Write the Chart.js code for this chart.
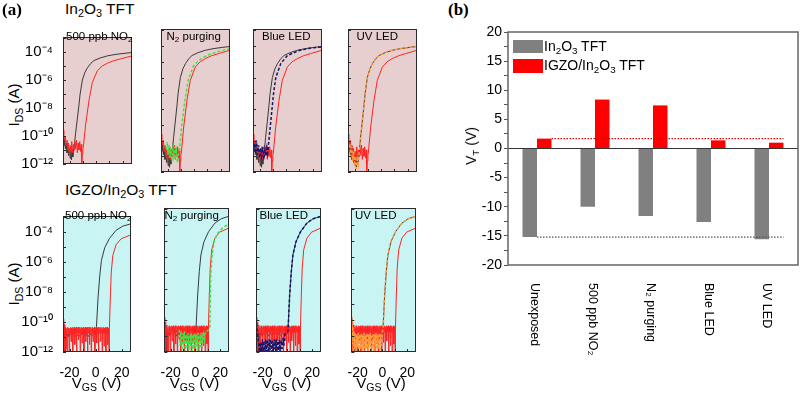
<!DOCTYPE html>
<html><head><meta charset="utf-8">
<script src="https://cdn.jsdelivr.net/npm/chart.js@4.4.1/dist/chart.umd.min.js"></script>
<style>
body{margin:0;background:#fff;}
#root{position:relative;width:800px;height:393px;overflow:hidden;font-family:'Liberation Sans',Arial,sans-serif;color:#000;background:#fff;}
.t{position:absolute;white-space:nowrap;line-height:1.15;}
canvas{position:absolute;}
sub{font-size:70%;vertical-align:-0.3em;line-height:0;}
.rot{transform:translate(-50%,-50%) rotate(-90deg);}
</style></head><body><div id="root"></div>
<script>
// ---------------- DATA ----------------
// Transfer curves: [V_GS (V), log10(I_DS / A)]
// In2O3 TFT (top row)
const in2o3Pristine = [[-25,-10.3],[-24.4,-10.7],[-23.8,-10.2],[-23.2,-10.9],[-22.6,-10.5],[-22,-11.2],[-21.4,-10.6],[-20.8,-11.4],[-20.2,-10.9],[-19.6,-11.6],[-19.1,-11.0],[-18.6,-11.7],[-18.1,-11.1],[-17.6,-11.5],[-17.1,-11.0],[-16.6,-10.8],[-15.5,-9.8],[-14.1,-8.7],[-13,-7.8],[-12.1,-7.0],[-10.4,-6.0],[-8.5,-5.45],[-6.6,-5.12],[-4,-4.8],[-1.6,-4.6],[3,-4.42],[8.4,-4.27],[15,-4.16],[21,-4.09],[27,-4.03]];
const in2o3NO2 = [[-25,-9.6],[-24.4,-9.9],[-23.8,-10.3],[-23.2,-10.0],[-22.6,-10.7],[-22,-10.3],[-21.4,-11.0],[-20.8,-10.5],[-20.2,-11.3],[-19.6,-10.7],[-19.0,-11.1],[-18.4,-10.4],[-17.8,-11.2],[-17.2,-10.6],[-16.6,-11.0],[-16,-10.4],[-15.4,-10.9],[-14.8,-10.3],[-14.2,-11.2],[-13.6,-10.5],[-13,-11.0],[-12.4,-10.4],[-11.8,-11.1],[-11.3,-10.6],[-10.9,-12],[-10.5,-11.3],[-10,-10.9],[-9.7,-10.8],[-7.9,-9.14],[-5.4,-7.45],[-2.9,-6.18],[0.9,-5.33],[4.5,-5.0],[8.4,-4.8],[13,-4.62],[18.5,-4.48],[27,-4.27]];
const in2o3N2 = [[-21,-10.6],[-20.3,-10.1],[-19.6,-10.9],[-18.9,-10.3],[-18.2,-11.1],[-17.5,-10.5],[-16.8,-11.3],[-16.1,-10.6],[-15.4,-11.0],[-14.7,-10.4],[-14,-11.2],[-13.3,-10.7],[-12.6,-11.4],[-11.9,-10.9],[-11.3,-10.8],[-9.5,-9.14],[-7,-7.45],[-4.5,-6.18],[-0.7,-5.3],[3,-4.95],[7,-4.72],[12,-4.52],[18,-4.36],[27,-4.17]];
const in2o3Blue = [[-24,-10.2],[-23.2,-10.8],[-22.4,-10.0],[-21.6,-10.9],[-20.8,-10.3],[-20,-11.1],[-19.2,-10.5],[-18.4,-11.0],[-17.6,-10.4],[-16.8,-11.2],[-16,-10.6],[-15.2,-11.0],[-14.5,-10.5],[-14,-10.8],[-12.8,-9.8],[-11.5,-8.7],[-9.5,-7.0],[-7.8,-6.0],[-4,-5.1],[1,-4.6],[10,-4.28],[18,-4.14],[27,-4.05]];
const in2o3UV = [[-25,-9.9],[-24.3,-10.5],[-23.6,-10.2],[-22.9,-11.0],[-22.2,-10.4],[-21.5,-11.3],[-20.8,-10.7],[-20.1,-11.6],[-19.4,-11.0],[-18.7,-11.8],[-18,-11.2],[-17.3,-11.5],[-16.6,-10.8],[-15.5,-9.8],[-14.1,-8.7],[-13,-7.8],[-12.1,-7.0],[-10.4,-6.0],[-8.5,-5.45],[-6.6,-5.12],[-4,-4.8],[-1.6,-4.6],[3,-4.42],[8.4,-4.27],[15,-4.16],[21,-4.09],[27,-4.03]];

// IGZO/In2O3 TFT (bottom row)
const igzoPristine = [[-25,-10.1],[-24.6,-10.5],[-24.3,-11.9],[-23.9,-10.6],[-23.4,-10.8],[-23.1,-12],[-22.7,-10.8],[-22,-10.9],[-21.2,-10.75],[-20.4,-11.0],[-19.6,-10.8],[-18,-10.9],[-16.5,-10.75],[-15,-11.0],[-13.5,-10.8],[-12,-10.95],[-10.5,-10.75],[-9,-10.9],[-7.5,-10.8],[-6,-11.0],[-4.5,-10.8],[-3,-10.9],[-1.5,-10.8],[0,-10.85],[0.6,-10.3],[1.8,-8.41],[3.1,-6.94],[4.4,-5.88],[6.9,-5.04],[10.6,-4.41],[15.7,-3.87],[20.7,-3.6],[27,-3.44]];
const igzoNO2 = [[-25,-9.8],[-24.7,-10.0],[-24.5,-12],[-24.3,-10.1],[-23.9,-10.2],[-23.7,-12],[-23.5,-10.3],[-23.0,-10.4],[-22.8,-11.8],[-22.6,-10.45],[-22.1,-10.5],[-21.9,-12],[-21.6,-10.55],
[-21.2,-10.35],[-20.8,-10.75],[-20.5,-10.4],[-20.2,-12],[-19.9,-10.45],[-19.5,-10.75],[-19.1,-10.35],[-18.8,-11.3],[-18.5,-10.4],[-18.1,-10.75],[-17.7,-10.35],[-17.4,-12],[-17.1,-10.45],[-16.7,-10.75],[-16.3,-10.35],[-16.0,-11.5],[-15.7,-10.4],[-15.3,-10.75],[-14.9,-10.35],[-14.6,-12],[-14.3,-10.45],[-13.9,-10.75],[-13.5,-10.35],[-13.2,-11.2],[-12.9,-10.4],[-12.5,-10.75],[-12.1,-10.35],[-11.8,-12],[-11.5,-10.45],[-11.1,-10.75],[-10.7,-10.35],[-10.4,-11.4],[-10.1,-10.4],[-9.7,-10.75],[-9.3,-10.35],[-9.0,-12],[-8.7,-10.45],[-8.3,-10.75],[-7.9,-10.35],[-7.6,-11.3],[-7.3,-10.4],[-6.9,-10.75],[-6.5,-10.35],[-6.2,-12],[-5.9,-10.45],[-5.5,-10.75],[-5.1,-10.35],[-4.8,-11.5],[-4.5,-10.4],[-4.1,-10.75],[-3.7,-10.35],[-3.4,-12],[-3.1,-10.45],[-2.7,-10.75],[-2.3,-10.35],[-2.0,-11.3],[-1.7,-10.4],[-1.3,-10.75],[-0.9,-10.35],[-0.6,-12],[-0.3,-10.45],[0.1,-10.75],[0.5,-10.35],[0.8,-11.4],[1.1,-10.4],[1.5,-10.75],[1.9,-10.35],[2.2,-12],[2.5,-10.45],[2.9,-10.75],[3.3,-10.35],[3.6,-11.3],[3.9,-10.4],[4.3,-10.75],[4.7,-10.35],[5.0,-12],[5.3,-10.45],[5.7,-10.75],[6.1,-10.35],[6.4,-11.6],[6.7,-10.4],[7.1,-10.75],[7.5,-10.35],[7.8,-12],[8.1,-10.45],[8.5,-10.75],[8.9,-10.35],[9.2,-11.5],[9.5,-10.4],[9.9,-10.75],[10.2,-12],[10.4,-10.5],[10.6,-10.42],[11.2,-8.41],[11.9,-6.72],[13.1,-5.56],[15.7,-4.82],[19.5,-4.44],[27,-4.18]];
const igzoN2 = [[-13,-10.6],[-12.3,-11.6],[-11.6,-10.7],[-10.9,-11.9],[-10.2,-10.8],[-9.5,-11.5],[-8.8,-10.7],[-8.1,-12],[-7.4,-10.9],[-6.7,-11.7],[-6,-10.8],[-5.3,-11.9],[-4.6,-10.9],[-3.9,-11.6],[-3.2,-10.8],[-2.5,-12],[-1.8,-10.9],[-1.1,-11.8],[-0.4,-10.8],[0.3,-11.9],[1,-10.9],[1.7,-11.6],[2.4,-10.8],[3.1,-12],[3.8,-10.9],[4.5,-11.7],[5.2,-10.8],[5.9,-11.5],[6.6,-10.9],[7.3,-11.2],[8,-10.7],[9,-10.7],[10.5,-10.6],[11.6,-10.5],[11.9,-8.8],[12.2,-7.35],[13.4,-5.88],[14.8,-5.1],[17.2,-4.6],[22,-4.15],[27,-3.94]];
const igzoBlue = [[-25,-10.2],[-24.3,-10.6],[-23.6,-11.1],[-22.9,-11.6],[-22.3,-12],[-21.6,-11.4],[-21,-12],[-20.2,-11.2],[-19.6,-12],[-18.9,-11.3],[-18.2,-12],[-17.5,-11.2],[-16.8,-12],[-16.1,-11.3],[-15.4,-12],[-14.7,-11.2],[-14,-11.9],[-13.3,-11.2],[-12.6,-12],[-11.9,-11.3],[-11.2,-12],[-10.5,-11.2],[-9.8,-11.8],[-9.1,-11.2],[-8.4,-12],[-7.7,-11.3],[-7,-11.9],[-6.3,-11.2],[-5.6,-12],[-4.9,-11.3],[-4.2,-11.8],[-3.5,-11.1],[-2.8,-11.6],[-2,-10.9],[-1,-10.8],[0.3,-10.7],[0.7,-10.3],[1.8,-8.41],[3.1,-6.94],[4.4,-5.88],[6.9,-5.04],[10.6,-4.41],[15.7,-3.87],[20.7,-3.6],[27,-3.45]];
const igzoUV = [[-25,-9.4],[-24.8,-12],[-24.5,-10.0],[-24.2,-11.5],[-23.8,-10.4],[-23.4,-12],[-22.9,-10.7],[-22.4,-11.8],[-21.8,-10.8],[-21.2,-12],[-20.6,-10.9],[-20,-11.7],[-19.4,-10.8],[-18.8,-12],[-18.2,-10.9],[-17.6,-11.8],[-17,-10.8],[-16.4,-12],[-15.8,-10.9],[-15.2,-11.7],[-14.6,-10.8],[-14,-12],[-13.4,-10.9],[-12.8,-11.8],[-12.2,-10.8],[-11.6,-12],[-11,-10.9],[-10.4,-11.7],[-9.8,-10.8],[-9.2,-12],[-8.6,-10.9],[-8,-11.8],[-7.4,-10.8],[-6.8,-12],[-6.2,-10.9],[-5.6,-11.7],[-5,-10.8],[-4.4,-12],[-3.8,-10.9],[-3.2,-11.8],[-2.6,-10.8],[-2,-12],[-1.4,-10.9],[-0.8,-11.6],[-0.2,-10.8],[0.4,-10.5],[0.7,-10.3],[1.8,-8.41],[3.1,-6.94],[4.4,-5.88],[6.9,-5.04],[10.6,-4.41],[15.7,-3.87],[20.7,-3.6],[27,-3.45]];

// Tick values / labels for the transfer-curve panels
const xTickValues = [-20,-10,0,10,20];
const xTickLabels = [-20,0,20];
const yTickValues = [-12,-11,-10,-9,-8,-7,-6,-5,-4,-3];
const yTickExps = [-4,-6,-8,-10,-12];

// Panel (b): threshold voltages
const conditions = ['Unexposed','500 ppb NO\u2082','N\u2082 purging','Blue LED','UV LED'];
const vtIn2O3 = [-15.2,-10.0,-11.6,-12.6,-15.6];
const vtIGZO = [1.7,8.4,7.4,1.4,1.0];
const vtTickValues = [-20,-17.5,-15,-12.5,-10,-7.5,-5,-2.5,0,2.5,5,7.5,10,12.5,15,17.5,20];

// ---------------- RENDER ----------------
const FONT = "'Liberation Sans', Arial, sans-serif";
const root = document.getElementById('root');
function txt(html, css){ const d=document.createElement('div'); d.className='t'; d.innerHTML=html; Object.assign(d.style,css); root.appendChild(d); return d; }
function sup(n){ const m={'-':'\u207B','0':'\u2070','1':'\u00B9','2':'\u00B2','4':'\u2074','6':'\u2076','8':'\u2078'}; return '10'+String(n).split('').map(c=>m[c]).join(''); }

const panelLefts = [63,161,253,347.5];
const PW = 69;
const rows = [
  {top:29, h:143, bg:'#e8cfcf', label:'In<sub>2</sub>O<sub>3</sub> TFT', labelTop:0,
   curves:[[in2o3Pristine,in2o3NO2],[in2o3Pristine,in2o3NO2,in2o3N2],[in2o3Pristine,in2o3NO2,in2o3Blue],[in2o3Pristine,in2o3NO2,in2o3UV]],
   insets:[3,5.5,9,9]},
  {top:208, h:144, bg:'#c8f4f4', label:'IGZO/In<sub>2</sub>O<sub>3</sub> TFT', labelTop:181,
   curves:[[igzoPristine,igzoNO2],[igzoPristine,igzoNO2,igzoN2],[igzoPristine,igzoNO2,igzoBlue],[igzoPristine,igzoNO2,igzoUV]],
   insets:[2,3.5,6.5,7.5]}
];
const panelNames = ['500 ppb NO<sub>2</sub>','N<sub>2</sub> purging','Blue LED','UV LED'];
const recoveryStyle = [null,
  {borderColor:'#3fe23f', borderWidth:1.5, borderDash:[3,2]},
  {borderColor:'#14146e', borderWidth:1.5, borderDash:[3,2]},
  {borderColor:'#ff9a3c', borderWidth:1.5, borderDash:[3,2]}];

function panelPlugin(bg){ return {
  id:'panelbox',
  beforeDatasetsDraw(chart){ const a=chart.chartArea,c=chart.ctx; c.save(); c.fillStyle=bg; c.fillRect(a.left,a.top,a.right-a.left,a.bottom-a.top); c.restore(); },
  afterDraw(chart){ const a=chart.chartArea,c=chart.ctx; c.save(); c.strokeStyle='#2a2a2a'; c.lineWidth=1;
    c.strokeRect(Math.round(a.left)+0.5,Math.round(a.top)+0.5,Math.round(a.right-a.left)-1,Math.round(a.bottom-a.top)-1);
    const ys=chart.scales.y, xs=chart.scales.x; c.beginPath();
    ys.ticks.forEach(t=>{const y=Math.round(ys.getPixelForValue(t.value))+0.5; c.moveTo(a.left,y); c.lineTo(a.left+3,y);});
    xs.ticks.forEach(t=>{const x=Math.round(xs.getPixelForValue(t.value))+0.5; c.moveTo(x,a.bottom); c.lineTo(x,a.bottom-3);});
    c.stroke(); c.restore(); }
};}

rows.forEach((row,ri)=>{
  txt(row.label,{left:'65px',top:row.labelTop+'px',fontSize:'15.5px'});
  txt('I<sub>DS</sub> (A)',{left:'14px',top:(row.top+row.h/2+4)+'px',fontSize:'15px'}).classList.add('rot');
  panelLefts.forEach((left,ci)=>{
    const padL = ci===0 ? 58 : 6, padT=3, padR=3, padB = ri===1 ? 26 : 3;
    const cw = Math.round(padL+PW+padR), ch = padT+row.h+padB;
    const cv = document.createElement('canvas');
    cv.width=cw; cv.height=ch;
    Object.assign(cv.style,{left:(left-padL)+'px',top:(row.top-padT)+'px',width:cw+'px',height:ch+'px'});
    root.appendChild(cv);
    const curves = row.curves[ci];
    const ds = [
      {data:curves[0], borderColor:'#3a3a3a', borderWidth:1, order:3},
      {data:curves[1], borderColor:'#ff2323', borderWidth:1, order:2}
    ];
    if(curves[2]) ds.push(Object.assign({data:curves[2], order:1}, recoveryStyle[ci]));
    new Chart(cv,{
      type:'line',
      data:{datasets:ds},
      options:{
        responsive:false, animation:false, devicePixelRatio:1,
        layout:{padding:{top:padT,right:padR,left:0,bottom:0}},
        plugins:{legend:{display:false},tooltip:{enabled:false}},
        elements:{point:{radius:0},line:{tension:0}},
        scales:{
          x:{type:'linear',min:-25,max:27,
             afterFit:s=>{s.height=padB;},
             afterBuildTicks:s=>{s.ticks=xTickValues.map(v=>({value:v}));},
             grid:{display:false},border:{display:false},
             ticks:{display:ri===1,autoSkip:false,maxRotation:0,minRotation:0,padding:5,color:'#000',font:{family:FONT,size:14},
                    callback:v=>xTickLabels.includes(v)?String(v):''}},
          y:{type:'linear',min:-12,max:-2.92,
             afterFit:s=>{s.width=padL;},
             afterBuildTicks:s=>{s.ticks=yTickValues.map(v=>({value:v}));},
             grid:{display:false},border:{display:false},
             ticks:{display:ci===0,autoSkip:false,padding:2,color:'#000',font:{family:FONT,size:15},
                    callback:v=>yTickExps.includes(v)?sup(v):''}}
        }
      },
      plugins:[panelPlugin(row.bg)]
    });
    txt(panelNames[ci],{left:(left+row.insets[ci])+'px',top:(row.top+1)+'px',fontSize:'11.5px'});
    if(ri===1) txt('V<sub>GS</sub> (V)',{left:(left+PW/2-1)+'px',top:'374px',fontSize:'15px',transform:'translateX(-50%)'});
  });
});

txt('(a)',{left:'2px',top:'0px',fontSize:'17px',fontWeight:'bold',fontFamily:"'Liberation Serif','Times New Roman',serif"});
txt('(b)',{left:'448px',top:'0px',fontSize:'17px',fontWeight:'bold',fontFamily:"'Liberation Serif','Times New Roman',serif"});

// ---- panel (b) bar chart ----
const cvb=document.createElement('canvas');
cvb.width=370; cvb.height=373;
Object.assign(cvb.style,{left:'430px',top:'20px',width:'370px',height:'373px'});
root.appendChild(cvb);
const barPlugin={
  id:'barextras',
  afterDraw(chart){
    const a=chart.chartArea,c=chart.ctx,xs=chart.scales.x,ys=chart.scales.y;
    const m0=chart.getDatasetMeta(0).data, m1=chart.getDatasetMeta(1).data;
    c.save();
    c.lineWidth=1.3; c.setLineDash([1.5,1.5]);
    const endX=m1[4].x+m1[4].width/2;
    c.strokeStyle='#555'; c.beginPath();
    let y=ys.getPixelForValue(vtIn2O3[0]); c.moveTo(m0[0].x+m0[0].width/2,y); c.lineTo(endX,y); c.stroke();
    c.strokeStyle='#e00000'; c.beginPath();
    y=ys.getPixelForValue(vtIGZO[0]); c.moveTo(m1[0].x+m1[0].width/2,y); c.lineTo(endX,y); c.stroke();
    c.setLineDash([]);
    c.strokeStyle='#666'; c.lineWidth=1.5;
    c.strokeRect(a.left,a.top,a.right-a.left,a.bottom-a.top);
    c.fillStyle='#000'; c.font='12.5px '+FONT; c.textAlign='left'; c.textBaseline='middle';
    conditions.forEach((lab,i)=>{ const x=xs.getPixelForValue(i)-3; c.save(); c.translate(x,a.bottom+18); c.rotate(Math.PI/2); c.fillText(lab,0,0); c.restore(); });
    c.restore();
  }
};
new Chart(cvb,{
  type:'bar',
  data:{labels:conditions,datasets:[
    {label:'In\u2082O\u2083 TFT',data:vtIn2O3,backgroundColor:'#808080',categoryPercentage:0.5,barPercentage:1},
    {label:'IGZO/In\u2082O\u2083 TFT',data:vtIGZO,backgroundColor:'#ff0000',categoryPercentage:0.5,barPercentage:1}
  ]},
  options:{
    responsive:false,animation:false,devicePixelRatio:1,
    layout:{padding:{top:12,right:2,left:0,bottom:0}},
    plugins:{legend:{display:false},tooltip:{enabled:false}},
    scales:{
      x:{ticks:{display:false},grid:{display:false},border:{display:false},afterFit:s=>{s.height=128;}},
      y:{min:-20,max:20,
         afterFit:s=>{s.width=78;},
         afterBuildTicks:s=>{s.ticks=vtTickValues.map(v=>({value:v}));},
         ticks:{autoSkip:false,padding:2,color:'#000',font:{family:FONT,size:14},callback:v=>(v%5===0)?String(v):''},
         grid:{drawOnChartArea:true,drawTicks:true,tickLength:4,tickColor:'#555',lineWidth:1,
               color:c=>(c.tick&&c.tick.value===0)?'#333':'rgba(0,0,0,0)'},
         border:{display:false}}
    }
  },
  plugins:[barPlugin]
});

// legend and axis title for (b)
const lg=document.createElement('div'); Object.assign(lg.style,{position:'absolute',left:'513px',top:'40px',width:'30px',height:'13px',background:'#808080'}); root.appendChild(lg);
const lr=document.createElement('div'); Object.assign(lr.style,{position:'absolute',left:'513px',top:'59px',width:'30px',height:'14px',background:'#ff0000'}); root.appendChild(lr);
txt('In<sub>2</sub>O<sub>3</sub> TFT',{left:'544px',top:'38px',fontSize:'14px'});
txt('IGZO/In<sub>2</sub>O<sub>3</sub> TFT',{left:'544px',top:'57px',fontSize:'14px'});
txt('V<sub>T</sub> (V)',{left:'471px',top:'146px',fontSize:'14px'}).classList.add('rot');
</script>
</body></html>
